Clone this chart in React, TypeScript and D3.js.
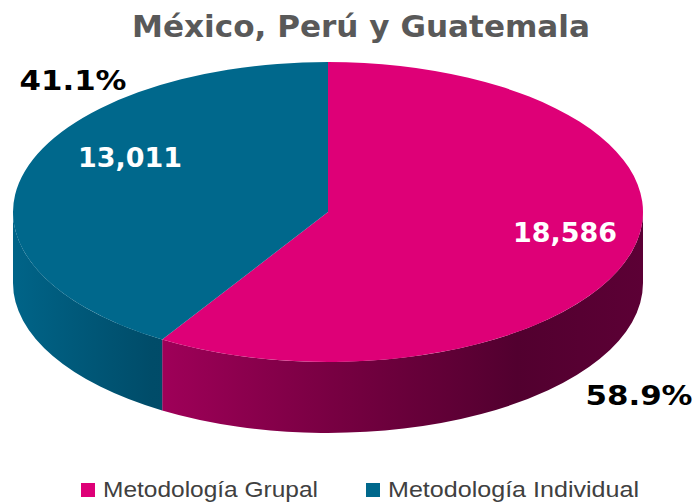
import React from 'react'
import * as d3 from 'd3'

const categories = ['Metodología Grupal', 'Metodología Individual']
const values = [18586, 13011]
const valueLabels = ['18,586', '13,011']
const percentLabels = ['58.9%', '41.1%']
const topColors = ['#DE0077', '#00688C']

const W = 696
const H = 503
const cx = 328
const cy = 212
const rx = 315
const ry = 150
const depth = 71

// label anchors (text only)
const valuePos = [[565, 242], [130, 167]]
const pctPos = [[639, 405], [73, 90]]

const pt = (a: number, dy = 0): [number, number] => [cx + rx * Math.sin(a), cy - ry * Math.cos(a) + dy]

export default function App() {
  const arcs = d3.pie<number>().sort(null)(values)

  const topPath = (a0: number, a1: number) => {
    const p0 = pt(a0)
    const p1 = pt(a1)
    const large = a1 - a0 > Math.PI ? 1 : 0
    return `M${cx},${cy}L${p0[0]},${p0[1]}A${rx},${ry} 0 ${large} 1 ${p1[0]},${p1[1]}Z`
  }

  const sidePath = (a0: number, a1: number) => {
    const s = Math.max(a0, Math.PI / 2)
    const e = Math.min(a1, (3 * Math.PI) / 2)
    if (s >= e) return null
    const p0 = pt(s)
    const p1 = pt(e)
    const q1 = pt(e, depth)
    const q0 = pt(s, depth)
    return `M${p0[0]},${p0[1]}A${rx},${ry} 0 0 1 ${p1[0]},${p1[1]}L${q1[0]},${q1[1]}A${rx},${ry} 0 0 0 ${q0[0]},${q0[1]}Z`
  }

  const legendX = [81, 366]
  const legendW = [215, 251]
  const bold = "'DejaVu Sans', Verdana, sans-serif"

  return (
    <svg width={W} height={H} style={{ position: 'absolute', left: 0, top: 0, background: '#fff' }}>
      <defs>
        <linearGradient id="side0" gradientUnits="userSpaceOnUse" x1={cx - rx} x2={cx + rx} y1={0} y2={0}>
          <stop offset="0" stopColor="#B00062" />
          <stop offset="0.205" stopColor="#A3005B" />
          <stop offset="0.52" stopColor="#760041" />
          <stop offset="0.8" stopColor="#52002F" />
          <stop offset="1" stopColor="#5C0035" />
        </linearGradient>
        <linearGradient id="side1" gradientUnits="userSpaceOnUse" x1={cx - rx} x2={cx + rx} y1={0} y2={0}>
          <stop offset="0" stopColor="#006488" />
          <stop offset="0.22" stopColor="#004C69" />
          <stop offset="1" stopColor="#003A50" />
        </linearGradient>
      </defs>

      <text x={361} y={37} textAnchor="middle" fontFamily={bold}
        fontWeight="bold" fontSize={30} fill="#595959" textLength={458} lengthAdjust="spacingAndGlyphs">
        México, Perú y Guatemala
      </text>

      {arcs.map((a, i) => {
        const d = sidePath(a.startAngle, a.endAngle)
        return d ? <path key={'s' + i} d={d} fill={`url(#side${i})`} /> : null
      })}
      {arcs.map((a, i) => (
        <path key={'t' + i} d={topPath(a.startAngle, a.endAngle)} fill={topColors[i]} />
      ))}

      {arcs.map((a, i) => (
        <text key={'v' + i} x={valuePos[i][0]} y={valuePos[i][1]} textAnchor="middle"
          fontFamily={bold} fontWeight="bold" fontSize={26} fill="#fff"
          textLength={104} lengthAdjust="spacingAndGlyphs">
          {valueLabels[i]}
        </text>
      ))}
      {arcs.map((a, i) => (
        <text key={'p' + i} x={pctPos[i][0]} y={pctPos[i][1]} textAnchor="middle"
          fontFamily={bold} fontWeight="bold" fontSize={27} fill="#000"
          textLength={107} lengthAdjust="spacingAndGlyphs">
          {percentLabels[i]}
        </text>
      ))}

      {categories.map((c, i) => (
        <g key={'l' + i}>
          <rect x={legendX[i]} y={483} width={14} height={14} fill={topColors[i]} />
          <text x={legendX[i] + 22} y={497} fontFamily="'Liberation Sans', Arial, sans-serif" fontSize={22}
            fill="#404040" textLength={legendW[i]} lengthAdjust="spacingAndGlyphs">
            {c}
          </text>
        </g>
      ))}
    </svg>
  )
}
